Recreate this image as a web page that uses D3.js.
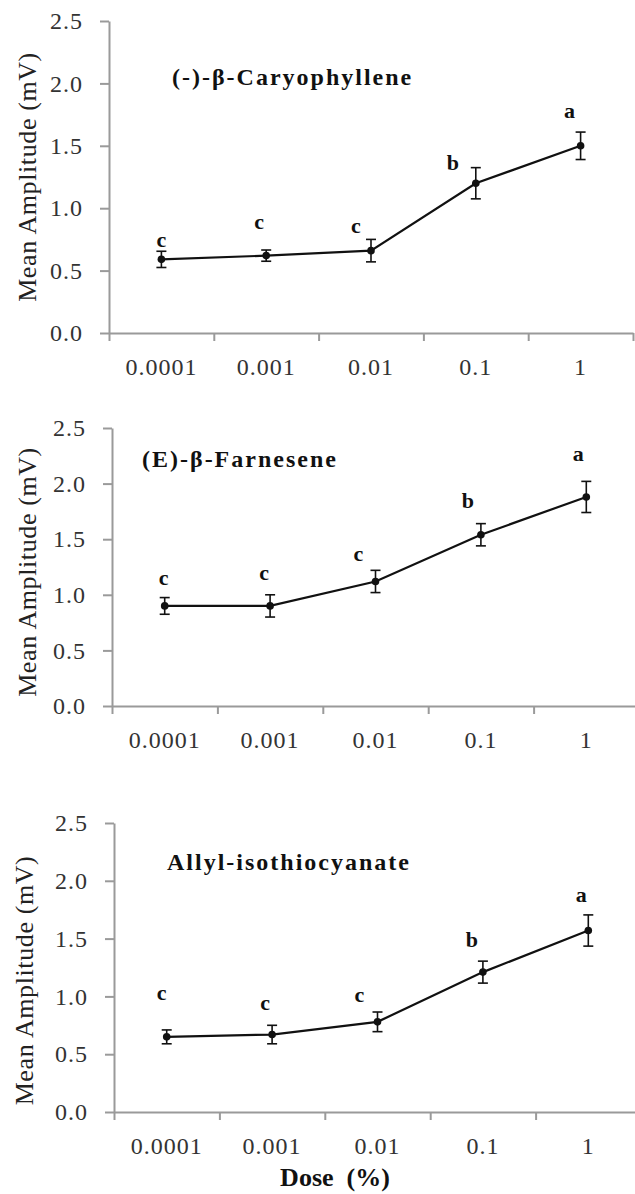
<!DOCTYPE html>
<html>
<head>
<meta charset="utf-8">
<script src="https://cdn.jsdelivr.net/npm/d3@7"></script>
<style>
  html, body { margin: 0; padding: 0; background: #fff; }
  .axis path, .axis line { stroke: #9a9a9a; stroke-width: 2; }
</style>
</head>
<body>
<svg id="chart" width="635" height="1194"></svg>
<script>
const FONT = "'Liberation Serif', 'Times New Roman', 'DejaVu Serif', serif";

// ─── Data ───
const doses = ["0.0001", "0.001", "0.01", "0.1", "1"];
const yTicks = [0, 0.5, 1.0, 1.5, 2.0, 2.5];

const caryMean = [0.59, 0.62, 0.66, 1.20, 1.50];
const caryErr = [0.065, 0.045, 0.09, 0.125, 0.11];
const caryLetters = ["c", "c", "c", "b", "a"];
const caryLetterY = [0.69, 0.83, 0.80, 1.31, 1.72];

const farnMean = [0.90, 0.90, 1.12, 1.54, 1.88];
const farnErr = [0.075, 0.10, 0.10, 0.10, 0.14];
const farnLetters = ["c", "c", "c", "b", "a"];
const farnLetterY = [1.09, 1.13, 1.30, 1.78, 2.20];

const allylMean = [0.65, 0.67, 0.78, 1.21, 1.57];
const allylErr = [0.06, 0.08, 0.085, 0.095, 0.135];
const allylLetters = ["c", "c", "c", "b", "a"];
const allylLetterY = [0.97, 0.88, 0.95, 1.43, 1.82];

// ─── Layout (pixels) ───
const panels = [
  { title: "(-)-β-Caryophyllene", mean: caryMean, err: caryErr, letters: caryLetters, letterY: caryLetterY,
    left: 109, top: 21, bottom: 333, band: 104.8, titleX: 172, titleY: 85, yTitleX: 36, yTitleDy: 0,
    letterDx: [0, -7, -15, -23, -11] },
  { title: "(E)-β-Farnesene", mean: farnMean, err: farnErr, letters: farnLetters, letterY: farnLetterY,
    left: 112, top: 428, bottom: 706, band: 105.4, titleX: 142, titleY: 467, yTitleX: 36, yTitleDy: 5,
    letterDx: [-1, -6, -17, -13, -8] },
  { title: "Allyl-isothiocyanate", mean: allylMean, err: allylErr, letters: allylLetters, letterY: allylLetterY,
    left: 114, top: 823, bottom: 1112, band: 105.4, titleX: 167, titleY: 870, yTitleX: 33, yTitleDy: 13,
    letterDx: [-5, -7, -18, -11, -7] },
];

const svg = d3.select("#chart");

function styleTicks(a) {
  a.attr("font-family", FONT).attr("font-size", 24);
  a.selectAll("text").attr("fill", "#333").attr("letter-spacing", "1px");
}

panels.forEach((p) => {
  const right = p.left + p.band * doses.length;
  const x = d3.scaleBand().domain(doses).range([p.left, right]);
  const xEdges = d3.scaleLinear().domain([0, doses.length]).range([p.left, right]);
  const y = d3.scaleLinear().domain([0, 2.5]).range([p.bottom, p.top]);
  const cx = (d) => x(d) + x.bandwidth() / 2;

  const g = svg.append("g").attr("font-family", FONT);

  // y axis
  g.append("g")
    .attr("class", "axis")
    .attr("transform", `translate(${p.left},0)`)
    .call(d3.axisLeft(y).tickValues(yTicks).tickFormat(d3.format(".1f")).tickSize(9).tickSizeOuter(0).tickPadding(17))
    .call(styleTicks);

  // x axis: boundary ticks
  g.append("g")
    .attr("class", "axis")
    .attr("transform", `translate(0,${p.bottom})`)
    .call(d3.axisBottom(xEdges).tickValues(d3.range(0, doses.length + 1)).tickFormat("").tickSize(8).tickSizeOuter(0));

  // x axis: category labels
  g.append("g")
    .attr("class", "axis")
    .attr("transform", `translate(0,${p.bottom})`)
    .call(d3.axisBottom(x).tickSize(0).tickPadding(25))
    .call((a) => a.select(".domain").remove())
    .call(styleTicks);

  // y axis title
  g.append("text")
    .attr("transform", `translate(${p.yTitleX},${(p.top + p.bottom) / 2 + p.yTitleDy}) rotate(-90)`)
    .attr("text-anchor", "middle")
    .attr("font-family", FONT)
    .attr("font-size", "26px")
    .attr("letter-spacing", "0.6px")
    .attr("fill", "#222")
    .text("Mean Amplitude (mV)");

  // panel title
  g.append("text")
    .attr("x", p.titleX)
    .attr("y", p.titleY)
    .attr("font-family", FONT)
    .attr("font-size", "24px")
    .attr("font-weight", "bold")
    .attr("letter-spacing", "2px")
    .attr("fill", "#111")
    .text(p.title);

  const rows = doses.map((d, i) => ({ dose: d, mean: p.mean[i], err: p.err[i], letter: p.letters[i], ly: p.letterY[i], dx: p.letterDx[i] }));

  // error bars
  const eb = g.append("g").attr("stroke", "#111").attr("stroke-width", 1.6);
  eb.selectAll("line.v").data(rows).join("line").attr("class", "v")
    .attr("x1", (d) => cx(d.dose)).attr("x2", (d) => cx(d.dose))
    .attr("y1", (d) => y(d.mean - d.err)).attr("y2", (d) => y(d.mean + d.err));
  ["lo", "hi"].forEach((k) => {
    eb.selectAll(`line.${k}`).data(rows).join("line").attr("class", k)
      .attr("x1", (d) => cx(d.dose) - 5).attr("x2", (d) => cx(d.dose) + 5)
      .attr("y1", (d) => y(k === "lo" ? d.mean - d.err : d.mean + d.err))
      .attr("y2", (d) => y(k === "lo" ? d.mean - d.err : d.mean + d.err));
  });

  // line
  g.append("path")
    .datum(rows)
    .attr("fill", "none")
    .attr("stroke", "#111")
    .attr("stroke-width", 2.2)
    .attr("d", d3.line().x((d) => cx(d.dose)).y((d) => y(d.mean)));

  // points
  g.selectAll("circle").data(rows).join("circle")
    .attr("cx", (d) => cx(d.dose))
    .attr("cy", (d) => y(d.mean))
    .attr("r", 3.8)
    .attr("fill", "#111");

  // significance letters
  g.selectAll("text.letter").data(rows).join("text")
    .attr("class", "letter")
    .attr("x", (d) => cx(d.dose) + d.dx)
    .attr("y", (d) => y(d.ly))
    .attr("text-anchor", "middle")
    .attr("font-family", FONT)
    .attr("font-size", "22px")
    .attr("font-weight", "bold")
    .attr("fill", "#111")
    .text((d) => d.letter);
});

// x axis title (bottom panel only)
svg.append("text")
  .attr("x", 335)
  .attr("y", 1186)
  .attr("text-anchor", "middle")
  .attr("font-family", FONT)
  .attr("font-size", "26px")
  .attr("font-weight", "bold")
  .attr("fill", "#111")
  .style("white-space", "pre")
  .text("Dose  (%)");
</script>
</body>
</html>
